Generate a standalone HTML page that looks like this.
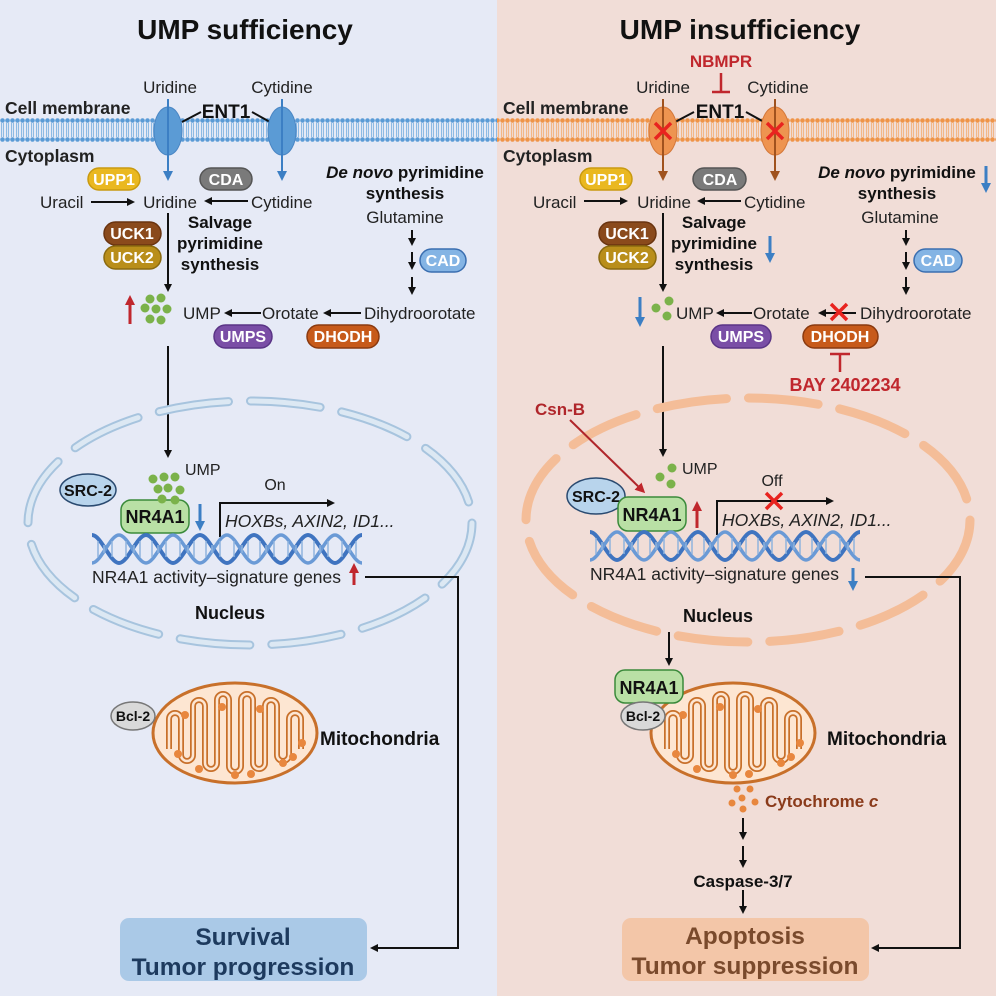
<!DOCTYPE html>
<html><head><meta charset="utf-8"><style>
html,body{margin:0;padding:0;width:996px;height:996px;overflow:hidden;background:#fff}
svg{display:block;font-family:"Liberation Sans",Arial,sans-serif}
.b{font-weight:bold}
</style></head><body>
<svg width="996" height="996" viewBox="0 0 996 996" xmlns="http://www.w3.org/2000/svg">
<defs>
<marker id="ak" markerWidth="8" markerHeight="8" refX="6" refY="4" orient="auto" markerUnits="userSpaceOnUse"><path d="M0,0 L8,4 L0,8 z" fill="#111"/></marker>
<marker id="ab" markerWidth="10" markerHeight="10" refX="7" refY="5" orient="auto" markerUnits="userSpaceOnUse"><path d="M0,0 L10,5 L0,10 z" fill="#3c7fc4"/></marker>
<marker id="ao" markerWidth="10" markerHeight="10" refX="7" refY="5" orient="auto" markerUnits="userSpaceOnUse"><path d="M0,0 L10,5 L0,10 z" fill="#a0521e"/></marker>
<marker id="ar" markerWidth="10" markerHeight="10" refX="7" refY="5" orient="auto" markerUnits="userSpaceOnUse"><path d="M0,0 L10,5 L0,10 z" fill="#c0272d"/></marker>
<pattern id="memB" width="5" height="26" patternUnits="userSpaceOnUse" x="0" y="117">
<circle cx="2.5" cy="3.5" r="2.3" fill="#5a9bd6"/><circle cx="2.5" cy="22.5" r="2.3" fill="#5a9bd6"/>
<line x1="1.6" y1="6" x2="1.6" y2="20" stroke="#7fb1e0" stroke-width="0.9"/><line x1="3.4" y1="6" x2="3.4" y2="20" stroke="#7fb1e0" stroke-width="0.9"/>
</pattern>
<pattern id="memO" width="5" height="26" patternUnits="userSpaceOnUse" x="0" y="117">
<circle cx="2.5" cy="3.5" r="2.3" fill="#ef9448"/><circle cx="2.5" cy="22.5" r="2.3" fill="#ef9448"/>
<line x1="1.6" y1="6" x2="1.6" y2="20" stroke="#f3b07a" stroke-width="0.9"/><line x1="3.4" y1="6" x2="3.4" y2="20" stroke="#f3b07a" stroke-width="0.9"/>
</pattern>
<g id="helix">
<path d="M0 0 C9 0 18 28 27 28 C36 28 45 0 54 0 C63 0 72 28 81 28 C90 28 99 0 108 0 C117 0 126 28 135 28 C144 28 153 0 162 0 C171 0 180 28 189 28 C198 28 207 0 216 0 C225 0 234 28 243 28 C252 28 261 0 270 0" fill="none" stroke="#3f74c0" stroke-width="4"/>
<path d="M0 28 C9 28 18 0 27 0 C36 0 45 28 54 28 C63 28 72 0 81 0 C90 0 99 28 108 28 C117 28 126 0 135 0 C144 0 153 28 162 28 C171 28 180 0 189 0 C198 0 207 28 216 28 C225 28 234 0 243 0 C252 0 261 28 270 28" fill="none" stroke="#6a9ad6" stroke-width="3.5"/>
<path d="M6 6v16M12 10v8M20 6v16M34 6v16M42 10v8M48 6v16M60 6v16M66 10v8M74 6v16M88 6v16M96 10v8M102 6v16M114 6v16M120 10v8M128 6v16M142 6v16M150 10v8M156 6v16M168 6v16M174 10v8M182 6v16M196 6v16M204 10v8M210 6v16M222 6v16M228 10v8M236 6v16M250 6v16M258 10v8M264 6v16" stroke="#8fb3dd" stroke-width="1.5"/>
</g>
<g id="mito">
<ellipse cx="0" cy="0" rx="82" ry="50" fill="#fde6d2" stroke="#c8702a" stroke-width="3"/>
<path d="M-66 16 L-66 -14 A6 6 0 0 1 -54 -14 L-54 22 A6 6 0 0 0 -42 22 L-42 -27 A6 6 0 0 1 -30 -27 L-30 30 A6 6 0 0 0 -18 30 L-18 -33 A6 6 0 0 1 -6 -33 L-6 33 A6 6 0 0 0 6 33 L6 -33 A6 6 0 0 1 18 -33 L18 30 A6 6 0 0 0 30 30 L30 -27 A6 6 0 0 1 42 -27 L42 22 A6 6 0 0 0 54 22 L54 -14 A6 6 0 0 1 66 -14 L66 16" fill="none" stroke="#c8702a" stroke-width="6"/>
<path d="M-66 16 L-66 -14 A6 6 0 0 1 -54 -14 L-54 22 A6 6 0 0 0 -42 22 L-42 -27 A6 6 0 0 1 -30 -27 L-30 30 A6 6 0 0 0 -18 30 L-18 -33 A6 6 0 0 1 -6 -33 L-6 33 A6 6 0 0 0 6 33 L6 -33 A6 6 0 0 1 18 -33 L18 30 A6 6 0 0 0 30 30 L30 -27 A6 6 0 0 1 42 -27 L42 22 A6 6 0 0 0 54 22 L54 -14 A6 6 0 0 1 66 -14 L66 16" fill="none" stroke="#fde6d2" stroke-width="2.5"/>
<g fill="#e8873e"><circle cx="-57" cy="21" r="4"/><circle cx="-36" cy="36" r="4"/><circle cx="0" cy="42" r="4"/><circle cx="16" cy="41" r="4"/><circle cx="48" cy="30" r="4"/><circle cx="67" cy="10" r="4"/><circle cx="58" cy="24" r="4"/><circle cx="-50" cy="-18" r="4"/><circle cx="-13" cy="-26" r="4"/><circle cx="25" cy="-24" r="4"/></g>
</g>
</defs>

<rect x="0" y="0" width="497" height="996" fill="#e6eaf6"/>
<rect x="497" y="0" width="499" height="996" fill="#f1ddd7"/>

<!-- LEFT -->
<text x="245" y="39" text-anchor="middle" class="b" font-size="28" fill="#111">UMP sufficiency</text>
<rect x="0" y="117" width="497" height="26" fill="url(#memB)"/>
<text x="5" y="114" class="b" font-size="17.5" fill="#222">Cell membrane</text>
<text x="5" y="162" class="b" font-size="17.5" fill="#222">Cytoplasm</text>
<text x="170" y="93" text-anchor="middle" font-size="17" fill="#222">Uridine</text>
<text x="282" y="93" text-anchor="middle" font-size="17" fill="#222">Cytidine</text>
<text x="226" y="118" text-anchor="middle" class="b" font-size="19" fill="#111">ENT1</text>
<line x1="201" y1="112" x2="182" y2="122" stroke="#111" stroke-width="2"/>
<line x1="252" y1="112" x2="270" y2="122" stroke="#111" stroke-width="2"/>
<ellipse cx="168" cy="131" rx="14" ry="24" fill="#5b9bd5" stroke="#4a86c4"/>
<ellipse cx="282" cy="131" rx="14" ry="24" fill="#5b9bd5" stroke="#4a86c4"/>
<line x1="168" y1="99" x2="168" y2="178" stroke="#3c7fc4" stroke-width="2" marker-end="url(#ab)"/>
<line x1="282" y1="99" x2="282" y2="178" stroke="#3c7fc4" stroke-width="2" marker-end="url(#ab)"/>

<rect x="88" y="168" width="52" height="22" rx="11" fill="#eab820" stroke="#c99a10" stroke-width="1.5"/>
<text x="114" y="185" text-anchor="middle" class="b" font-size="16" fill="#fff">UPP1</text>
<rect x="200" y="168" width="52" height="22" rx="11" fill="#7a7a7a" stroke="#555" stroke-width="1.5"/>
<text x="226" y="185" text-anchor="middle" class="b" font-size="16" fill="#fff">CDA</text>
<text x="40" y="208" font-size="17" fill="#222">Uracil</text>
<line x1="91" y1="202" x2="133" y2="202" stroke="#111" stroke-width="2" marker-end="url(#ak)"/>
<text x="170" y="208" text-anchor="middle" font-size="17" fill="#222">Uridine</text>
<line x1="248" y1="201" x2="206" y2="201" stroke="#111" stroke-width="2" marker-end="url(#ak)"/>
<text x="251" y="208" font-size="17" fill="#222">Cytidine</text>

<text x="405" y="178" text-anchor="middle" class="b" font-size="17" fill="#111"><tspan font-style="italic">De novo</tspan> pyrimidine</text>
<text x="405" y="199" text-anchor="middle" class="b" font-size="17" fill="#111">synthesis</text>
<text x="405" y="223" text-anchor="middle" font-size="17" fill="#222">Glutamine</text>
<line x1="412" y1="230" x2="412" y2="244" stroke="#111" stroke-width="2" marker-end="url(#ak)"/>
<line x1="412" y1="252" x2="412" y2="268" stroke="#111" stroke-width="2" marker-end="url(#ak)"/>
<line x1="412" y1="277" x2="412" y2="293" stroke="#111" stroke-width="2" marker-end="url(#ak)"/>
<rect x="420" y="249" width="46" height="23" rx="11.5" fill="#84b4e4" stroke="#3a6eb0" stroke-width="1.5"/>
<text x="443" y="266" text-anchor="middle" class="b" font-size="16" fill="#fff">CAD</text>

<rect x="104" y="222" width="57" height="23" rx="11.5" fill="#8a4a1c" stroke="#6a3410" stroke-width="1.5"/>
<text x="132" y="239" text-anchor="middle" class="b" font-size="16" fill="#fff">UCK1</text>
<rect x="104" y="246" width="57" height="23" rx="11.5" fill="#b98e1a" stroke="#8a6a10" stroke-width="1.5"/>
<text x="132" y="263" text-anchor="middle" class="b" font-size="16" fill="#fff">UCK2</text>
<line x1="168" y1="213" x2="168" y2="290" stroke="#111" stroke-width="2" marker-end="url(#ak)"/>
<text x="220" y="228" text-anchor="middle" class="b" font-size="17" fill="#111">Salvage</text>
<text x="220" y="249" text-anchor="middle" class="b" font-size="17" fill="#111">pyrimidine</text>
<text x="220" y="270" text-anchor="middle" class="b" font-size="17" fill="#111">synthesis</text>

<line x1="130" y1="324" x2="130" y2="298" stroke="#c0272d" stroke-width="3" marker-end="url(#ar)"/>
<g fill="#7bb24a"><circle cx="150" cy="299" r="4.5"/><circle cx="161" cy="298" r="4.5"/><circle cx="145" cy="308" r="4.5"/><circle cx="156" cy="309" r="4.5"/><circle cx="167" cy="309" r="4.5"/><circle cx="150" cy="319" r="4.5"/><circle cx="161" cy="320" r="4.5"/></g>
<text x="183" y="319" font-size="17" fill="#222">UMP</text>
<line x1="261" y1="313" x2="226" y2="313" stroke="#111" stroke-width="2" marker-end="url(#ak)"/>
<text x="262" y="319" font-size="17" fill="#222">Orotate</text>
<line x1="361" y1="313" x2="325" y2="313" stroke="#111" stroke-width="2" marker-end="url(#ak)"/>
<text x="364" y="319" font-size="17" fill="#222">Dihydroorotate</text>
<rect x="214" y="325" width="58" height="23" rx="11.5" fill="#7a4ea6" stroke="#5a3486" stroke-width="1.5"/>
<text x="243" y="342" text-anchor="middle" class="b" font-size="16" fill="#fff">UMPS</text>
<rect x="307" y="325" width="72" height="23" rx="11.5" fill="#c75a1a" stroke="#8a3a10" stroke-width="1.5"/>
<text x="343" y="342" text-anchor="middle" class="b" font-size="16" fill="#fff">DHODH</text>
<line x1="168" y1="346" x2="168" y2="456" stroke="#111" stroke-width="2" marker-end="url(#ak)"/>

<ellipse cx="250" cy="523" rx="222" ry="122" fill="none" stroke="#a7c4de" stroke-width="9" stroke-dasharray="70 22" stroke-linecap="round"/>
<ellipse cx="250" cy="523" rx="222" ry="122" fill="none" stroke="#dce8f3" stroke-width="5" stroke-dasharray="70 22" stroke-linecap="round"/>
<ellipse cx="88" cy="490" rx="28" ry="16" fill="#b8d4ec" stroke="#2a4a70" stroke-width="1.5"/>
<text x="88" y="496" text-anchor="middle" class="b" font-size="16" fill="#111">SRC-2</text>
<rect x="121" y="500" width="68" height="33" rx="10" fill="#b9e0a5" stroke="#3a8a3a" stroke-width="1.5"/>
<text x="155" y="523" text-anchor="middle" class="b" font-size="18" fill="#111">NR4A1</text>
<g fill="#7bb24a"><circle cx="153" cy="479" r="4.5"/><circle cx="164" cy="477" r="4.5"/><circle cx="175" cy="477" r="4.5"/><circle cx="158" cy="489" r="4.5"/><circle cx="168" cy="488" r="4.5"/><circle cx="180" cy="490" r="4.5"/><circle cx="162" cy="499" r="4.5"/><circle cx="175" cy="500" r="4.5"/></g>
<text x="185" y="475" font-size="16" fill="#222">UMP</text>
<line x1="200" y1="504" x2="200" y2="528" stroke="#3c7fc4" stroke-width="3" marker-end="url(#ab)"/>
<text x="275" y="490" text-anchor="middle" font-size="16" fill="#222">On</text>
<polyline points="220,537 220,503 333,503" fill="none" stroke="#111" stroke-width="2" marker-end="url(#ak)"/>
<text x="225" y="527" font-style="italic" font-size="17.5" fill="#222">HOXBs, AXIN2, ID1...</text>
<use href="#helix" x="92" y="535"/>
<text x="92" y="583" font-size="17.5" fill="#222">NR4A1 activity–signature genes</text>
<line x1="354" y1="585" x2="354" y2="566" stroke="#c0272d" stroke-width="3" marker-end="url(#ar)"/>
<polyline points="365,577 458,577 458,948 372,948" fill="none" stroke="#111" stroke-width="2" marker-end="url(#ak)"/>
<text x="230" y="619" text-anchor="middle" class="b" font-size="18" fill="#111">Nucleus</text>

<use href="#mito" x="235" y="733"/>
<ellipse cx="133" cy="716" rx="22" ry="14" fill="#d9d9d9" stroke="#777" stroke-width="1.5"/>
<text x="133" y="721" text-anchor="middle" class="b" font-size="14" fill="#111">Bcl-2</text>
<text x="320" y="745" class="b" font-size="19" fill="#111">Mitochondria</text>

<rect x="120" y="918" width="247" height="63" rx="9" fill="#aac9e7"/>
<text x="243" y="945" text-anchor="middle" class="b" font-size="24.5" fill="#1d3a5e">Survival</text>
<text x="243" y="975" text-anchor="middle" class="b" font-size="24.5" fill="#1d3a5e">Tumor progression</text>

<!-- RIGHT -->
<text x="740" y="39" text-anchor="middle" class="b" font-size="28" fill="#111">UMP insufficiency</text>
<text x="721" y="67" text-anchor="middle" class="b" font-size="17" fill="#c0272d">NBMPR</text>
<line x1="721" y1="73" x2="721" y2="92" stroke="#c0272d" stroke-width="2.5"/>
<line x1="712" y1="92" x2="730" y2="92" stroke="#c0272d" stroke-width="2.5"/>
<rect x="497" y="117" width="499" height="26" fill="url(#memO)"/>
<text x="503" y="114" class="b" font-size="17.5" fill="#222">Cell membrane</text>
<text x="503" y="162" class="b" font-size="17.5" fill="#222">Cytoplasm</text>
<text x="663" y="93" text-anchor="middle" font-size="17" fill="#222">Uridine</text>
<text x="778" y="93" text-anchor="middle" font-size="17" fill="#222">Cytidine</text>
<text x="720" y="118" text-anchor="middle" class="b" font-size="19" fill="#111">ENT1</text>
<line x1="694" y1="112" x2="675" y2="122" stroke="#111" stroke-width="2"/>
<line x1="746" y1="112" x2="764" y2="122" stroke="#111" stroke-width="2"/>
<ellipse cx="663" cy="131" rx="14" ry="24" fill="#ee9450" stroke="#d4783a"/>
<ellipse cx="775" cy="131" rx="14" ry="24" fill="#ee9450" stroke="#d4783a"/>
<line x1="663" y1="99" x2="663" y2="178" stroke="#a0521e" stroke-width="2" marker-end="url(#ao)"/>
<line x1="775" y1="99" x2="775" y2="178" stroke="#a0521e" stroke-width="2" marker-end="url(#ao)"/>
<path d="M655 123 L671 139 M671 123 L655 139 M767 123 L783 139 M783 123 L767 139" stroke="#e8231f" stroke-width="3.5"/>

<rect x="580" y="168" width="52" height="22" rx="11" fill="#eab820" stroke="#c99a10" stroke-width="1.5"/>
<text x="606" y="185" text-anchor="middle" class="b" font-size="16" fill="#fff">UPP1</text>
<rect x="693" y="168" width="53" height="22" rx="11" fill="#7a7a7a" stroke="#555" stroke-width="1.5"/>
<text x="720" y="185" text-anchor="middle" class="b" font-size="16" fill="#fff">CDA</text>
<text x="533" y="208" font-size="17" fill="#222">Uracil</text>
<line x1="584" y1="201" x2="626" y2="201" stroke="#111" stroke-width="2" marker-end="url(#ak)"/>
<text x="664" y="208" text-anchor="middle" font-size="17" fill="#222">Uridine</text>
<line x1="741" y1="201" x2="699" y2="201" stroke="#111" stroke-width="2" marker-end="url(#ak)"/>
<text x="744" y="208" font-size="17" fill="#222">Cytidine</text>

<text x="897" y="178" text-anchor="middle" class="b" font-size="17" fill="#111"><tspan font-style="italic">De novo</tspan> pyrimidine</text>
<text x="897" y="199" text-anchor="middle" class="b" font-size="17" fill="#111">synthesis</text>
<line x1="986" y1="166" x2="986" y2="190" stroke="#3c7fc4" stroke-width="3" marker-end="url(#ab)"/>
<text x="900" y="223" text-anchor="middle" font-size="17" fill="#222">Glutamine</text>
<line x1="906" y1="230" x2="906" y2="244" stroke="#111" stroke-width="2" marker-end="url(#ak)"/>
<line x1="906" y1="252" x2="906" y2="268" stroke="#111" stroke-width="2" marker-end="url(#ak)"/>
<line x1="906" y1="277" x2="906" y2="293" stroke="#111" stroke-width="2" marker-end="url(#ak)"/>
<rect x="914" y="249" width="48" height="23" rx="11.5" fill="#84b4e4" stroke="#3a6eb0" stroke-width="1.5"/>
<text x="938" y="266" text-anchor="middle" class="b" font-size="16" fill="#fff">CAD</text>

<rect x="599" y="222" width="57" height="23" rx="11.5" fill="#8a4a1c" stroke="#6a3410" stroke-width="1.5"/>
<text x="627" y="239" text-anchor="middle" class="b" font-size="16" fill="#fff">UCK1</text>
<rect x="599" y="246" width="57" height="23" rx="11.5" fill="#b98e1a" stroke="#8a6a10" stroke-width="1.5"/>
<text x="627" y="263" text-anchor="middle" class="b" font-size="16" fill="#fff">UCK2</text>
<line x1="663" y1="213" x2="663" y2="290" stroke="#111" stroke-width="2" marker-end="url(#ak)"/>
<text x="714" y="228" text-anchor="middle" class="b" font-size="17" fill="#111">Salvage</text>
<text x="714" y="249" text-anchor="middle" class="b" font-size="17" fill="#111">pyrimidine</text>
<text x="714" y="270" text-anchor="middle" class="b" font-size="17" fill="#111">synthesis</text>
<line x1="770" y1="236" x2="770" y2="260" stroke="#3c7fc4" stroke-width="3" marker-end="url(#ab)"/>

<line x1="640" y1="297" x2="640" y2="324" stroke="#3c7fc4" stroke-width="3" marker-end="url(#ab)"/>
<g fill="#7bb24a"><circle cx="656" cy="308" r="4.5"/><circle cx="669" cy="301" r="4.5"/><circle cx="667" cy="316" r="4.5"/></g>
<text x="676" y="319" font-size="17" fill="#222">UMP</text>
<line x1="752" y1="313" x2="718" y2="313" stroke="#111" stroke-width="2" marker-end="url(#ak)"/>
<text x="753" y="319" font-size="17" fill="#222">Orotate</text>
<line x1="856" y1="313" x2="820" y2="313" stroke="#111" stroke-width="2" marker-end="url(#ak)"/>
<path d="M831 304 L847 320 M847 304 L831 320" stroke="#e8231f" stroke-width="3.5"/>
<text x="860" y="319" font-size="17" fill="#222">Dihydroorotate</text>
<rect x="711" y="325" width="60" height="23" rx="11.5" fill="#7a4ea6" stroke="#5a3486" stroke-width="1.5"/>
<text x="741" y="342" text-anchor="middle" class="b" font-size="16" fill="#fff">UMPS</text>
<rect x="803" y="325" width="75" height="23" rx="11.5" fill="#c75a1a" stroke="#8a3a10" stroke-width="1.5"/>
<text x="840" y="342" text-anchor="middle" class="b" font-size="16" fill="#fff">DHODH</text>
<line x1="840" y1="354" x2="840" y2="372" stroke="#c0272d" stroke-width="2.5"/>
<line x1="830" y1="354" x2="850" y2="354" stroke="#c0272d" stroke-width="2.5"/>
<text x="845" y="391" text-anchor="middle" class="b" font-size="18" fill="#c0272d">BAY 2402234</text>
<line x1="663" y1="346" x2="663" y2="455" stroke="#111" stroke-width="2" marker-end="url(#ak)"/>

<ellipse cx="748" cy="520" rx="222" ry="122" fill="none" stroke="#f4bd98" stroke-width="9" stroke-dasharray="70 22" stroke-linecap="round"/>
<text x="560" y="415" text-anchor="middle" class="b" font-size="17" fill="#b0262b">Csn-B</text>
<line x1="570" y1="420" x2="643" y2="491" stroke="#b0262b" stroke-width="2" marker-end="url(#ar)"/>
<ellipse cx="596" cy="496" rx="29" ry="18" fill="#b8d4ec" stroke="#2a4a70" stroke-width="1.5"/>
<text x="596" y="502" text-anchor="middle" class="b" font-size="16" fill="#111">SRC-2</text>
<rect x="618" y="497" width="68" height="34" rx="10" fill="#b9e0a5" stroke="#3a8a3a" stroke-width="1.5"/>
<text x="652" y="521" text-anchor="middle" class="b" font-size="18" fill="#111">NR4A1</text>
<g fill="#7bb24a"><circle cx="660" cy="477" r="4.5"/><circle cx="672" cy="468" r="4.5"/><circle cx="671" cy="484" r="4.5"/></g>
<text x="682" y="474" font-size="16" fill="#222">UMP</text>
<line x1="697" y1="528" x2="697" y2="504" stroke="#c0272d" stroke-width="3" marker-end="url(#ar)"/>
<text x="772" y="486" text-anchor="middle" font-size="16" fill="#222">Off</text>
<polyline points="717,535 717,501 832,501" fill="none" stroke="#111" stroke-width="2" marker-end="url(#ak)"/>
<path d="M766 493 L782 509 M782 493 L766 509" stroke="#e8231f" stroke-width="3.5"/>
<text x="722" y="526" font-style="italic" font-size="17.5" fill="#222">HOXBs, AXIN2, ID1...</text>
<use href="#helix" x="590" y="532"/>
<text x="590" y="580" font-size="17.5" fill="#222">NR4A1 activity–signature genes</text>
<line x1="853" y1="568" x2="853" y2="588" stroke="#3c7fc4" stroke-width="3" marker-end="url(#ab)"/>
<polyline points="865,577 960,577 960,948 873,948" fill="none" stroke="#111" stroke-width="2" marker-end="url(#ak)"/>
<text x="718" y="622" text-anchor="middle" class="b" font-size="18" fill="#111">Nucleus</text>
<line x1="669" y1="632" x2="669" y2="664" stroke="#111" stroke-width="2" marker-end="url(#ak)"/>

<use href="#mito" x="733" y="733"/>
<rect x="615" y="670" width="68" height="33" rx="10" fill="#b9e0a5" stroke="#3a8a3a" stroke-width="1.5"/>
<text x="649" y="694" text-anchor="middle" class="b" font-size="18" fill="#111">NR4A1</text>
<ellipse cx="643" cy="716" rx="22" ry="14" fill="#d9d9d9" stroke="#777" stroke-width="1.5"/>
<text x="643" y="721" text-anchor="middle" class="b" font-size="14" fill="#111">Bcl-2</text>
<text x="827" y="745" class="b" font-size="19" fill="#111">Mitochondria</text>
<g fill="#e8873e"><circle cx="737" cy="789" r="3.5"/><circle cx="750" cy="789" r="3.5"/><circle cx="742" cy="798" r="3.5"/><circle cx="732" cy="803" r="3.5"/><circle cx="755" cy="802" r="3.5"/><circle cx="743" cy="809" r="3.5"/></g>
<text x="765" y="807" class="b" font-size="17" fill="#8a3a1a">Cytochrome <tspan font-style="italic">c</tspan></text>
<line x1="743" y1="818" x2="743" y2="838" stroke="#111" stroke-width="2" marker-end="url(#ak)"/>
<line x1="743" y1="846" x2="743" y2="866" stroke="#111" stroke-width="2" marker-end="url(#ak)"/>
<text x="743" y="887" text-anchor="middle" class="b" font-size="17" fill="#111">Caspase-3/7</text>
<line x1="743" y1="890" x2="743" y2="912" stroke="#111" stroke-width="2" marker-end="url(#ak)"/>
<rect x="622" y="918" width="247" height="63" rx="9" fill="#f3c6a8"/>
<text x="745" y="944" text-anchor="middle" class="b" font-size="24.5" fill="#7a4a2c">Apoptosis</text>
<text x="745" y="974" text-anchor="middle" class="b" font-size="24.5" fill="#7a4a2c">Tumor suppression</text>
</svg>
</body></html>
